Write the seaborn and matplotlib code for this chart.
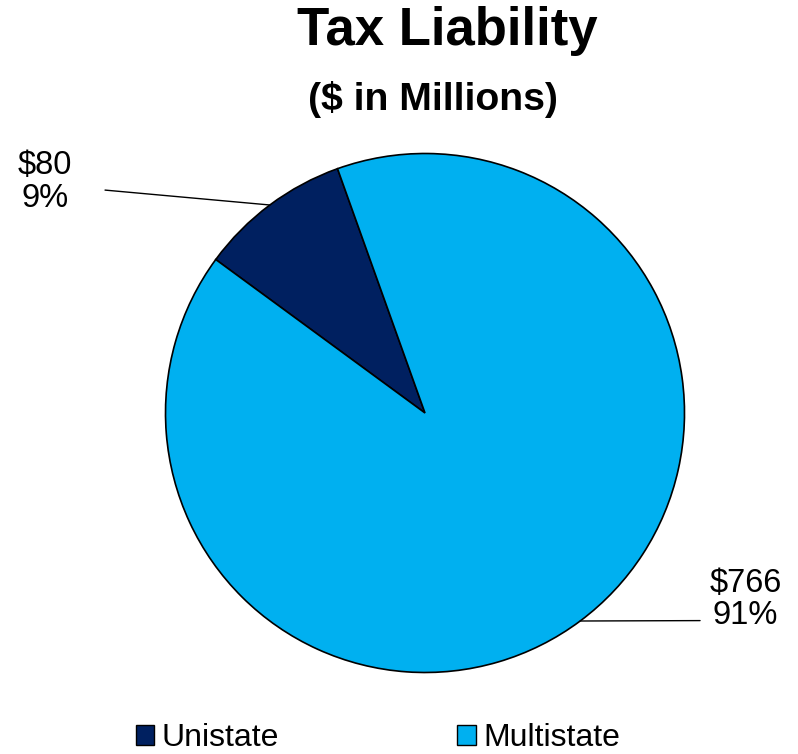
import numpy as np
import matplotlib
matplotlib.use("Agg")
import matplotlib.pyplot as plt
import seaborn as sns
from matplotlib.patches import Rectangle

# Tax liability by filer type ($ in millions)
categories = ["Unistate", "Multistate"]
values = [80, 766]
pct_labels = ["9%", "91%"]
colors = ["#002060", "#00B0F0"]

sns.set_theme(style="white")
plt.rcParams["font.family"] = ["Liberation Sans", "DejaVu Sans"]
plt.rcParams["text.color"] = "black"
plt.rcParams["legend.labelcolor"] = "black"

W, H = 798, 754
fig = plt.figure(figsize=(W / 100, H / 100), dpi=100)
fig.patch.set_facecolor("white")

# pie centre and radius in pixels
cx, cy, r = 425, 413, 259.5
ax = fig.add_axes([(cx - r) / W, (H - cy - r) / H, 2 * r / W, 2 * r / H])
ax.set_aspect("equal")
ax.axis("off")

palette = sns.color_palette(colors)
wedges, _ = ax.pie(values, colors=palette, startangle=109.7, counterclock=True,
                   radius=1.0, center=(0, 0), frame=False,
                   wedgeprops=dict(edgecolor="black", linewidth=1.2))
ax.set_xlim(-1, 1)
ax.set_ylim(-1, 1)

# data labels with leader lines
label_pos = [(-1.465, 0.89), (1.235, -0.72)]
line_ends = [(-1.233, 0.859), (1.06, -0.80)]
for w, val, pct, (lx, ly), (ex, ey) in zip(wedges, values, pct_labels, label_pos, line_ends):
    mid = np.deg2rad((w.theta1 + w.theta2) / 2)
    px, py = np.cos(mid), np.sin(mid)
    ax.plot([px, ex], [py, ey], color="black", lw=1.0, clip_on=False)
    ax.text(lx, ly, f"${val}\n{pct}", ha="center", va="center",
            fontsize=23.5, linespacing=1.05, color="black", clip_on=False)

fig.text(447 / W, 1 - 31 / H, "Tax Liability", ha="center", va="center",
         fontsize=38, fontweight="bold", color="black")
fig.text(433 / W, 1 - 99 / H, "($ in Millions)", ha="center", va="center",
         fontsize=28.3, fontweight="bold", color="black")

# legend along the bottom
handles = [Rectangle((0, 0), 1, 1, facecolor=c, edgecolor="black", lw=1.0) for c in palette]
fig.legend(handles, categories, loc="center", bbox_to_anchor=(378 / W, 1 - 738.5 / H),
           ncol=2, frameon=False, fontsize=23, handlelength=0.57, handleheight=0.57,
           handletextpad=0.25, columnspacing=5.58, borderaxespad=0, borderpad=0,
           labelcolor="black")

fig.savefig("out.png", dpi=100, facecolor="white")
